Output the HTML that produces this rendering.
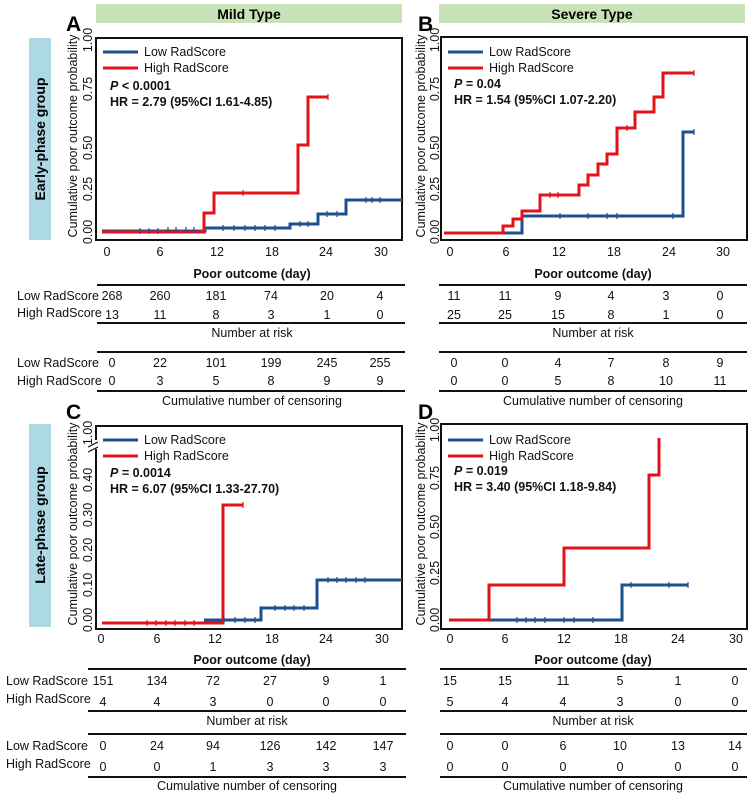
<!DOCTYPE html>
<html><head><meta charset="utf-8"><style>
body{margin:0;background:#fff}
svg text{font-family:"Liberation Sans",Arial,sans-serif}
.t{font-size:12.5px;fill:#111}
.b{font-weight:bold}
</style></head><body>
<svg width="756" height="795" viewBox="0 0 756 795" xmlns="http://www.w3.org/2000/svg">
<rect x="96" y="4" width="306" height="19" fill="#c9e3b8"/>
<text x="249" y="19" text-anchor="middle" font-size="14" font-weight="bold">Mild Type</text>
<rect x="439" y="4" width="306" height="19" fill="#c9e3b8"/>
<text x="592" y="19" text-anchor="middle" font-size="14" font-weight="bold">Severe Type</text>
<rect x="29" y="38" width="22" height="202" fill="#acd9e4"/>
<text transform="translate(45,139) rotate(-90)" text-anchor="middle" font-size="14" font-weight="bold">Early-phase group</text>
<rect x="29" y="424" width="22" height="203" fill="#acd9e4"/>
<text transform="translate(45,525) rotate(-90)" text-anchor="middle" font-size="14" font-weight="bold">Late-phase group</text>
<g font-size="21" font-weight="bold"><text x="66" y="31">A</text><text x="418" y="31">B</text><text x="66" y="419">C</text><text x="418" y="419">D</text></g>

<!-- A -->
<rect x="96" y="38" width="306" height="202" fill="none" stroke="#111" stroke-width="2"/>
<text class="t" transform="translate(77,136) rotate(-90)" text-anchor="middle" font-size="12">Cumulative poor outcome probability</text>
<g class="t" text-anchor="middle" font-size="12">
<text transform="translate(92,232) rotate(-90)">0.00</text><text transform="translate(92,189) rotate(-90)">0.25</text><text transform="translate(92,148) rotate(-90)">0.50</text><text transform="translate(92,89) rotate(-90)">0.75</text><text transform="translate(92,40) rotate(-90)">1.00</text>
<text x="107" y="256">0</text><text x="160" y="256">6</text><text x="217" y="256">12</text><text x="272" y="256">18</text><text x="326" y="256">24</text><text x="381" y="256">30</text>
</g>
<path d="M102 231H205V228H290V224H318V214H346V200H402" fill="none" stroke="#1f4f8e" stroke-width="3"/>
<path d="M102 232H204V213H214V193H298V145H308V97H328" fill="none" stroke="#e3131b" stroke-width="3"/>
<g stroke="#1f4f8e" stroke-width="1.2"><path d="M140 228v6M149 228v6M158 228v6M168 227v6M176 227v6M186 227v6M194 227v6M223 225v6M234 225v6M245 225v6M255 225v6M265 225v6M275 225v6M300 221v6M308 221v6M327 211v6M337 211v6M366 197v6M372 197v6M380 197v6"/></g>
<g stroke="#e3131b" stroke-width="1.2"><path d="M243 190v6M328 94v6"/></g>
<path d="M103 52h35" stroke="#1f4f8e" stroke-width="3"/><path d="M103 68h35" stroke="#e3131b" stroke-width="3"/>
<text class="t" x="144" y="56">Low RadScore</text><text class="t" x="144" y="72">High RadScore</text>
<text class="t b" x="110" y="90"><tspan font-style="italic">P</tspan> &lt; 0.0001</text>
<text class="t b" x="110" y="106">HR = 2.79 (95%CI 1.61-4.85)</text>

<!-- B -->
<rect x="441" y="37" width="306" height="203" fill="none" stroke="#111" stroke-width="2"/>
<text class="t" transform="translate(425,136) rotate(-90)" text-anchor="middle" font-size="12">Cumulative poor outcome probability</text>
<g class="t" text-anchor="middle" font-size="12">
<text transform="translate(439,232) rotate(-90)">0.00</text><text transform="translate(439,189) rotate(-90)">0.25</text><text transform="translate(439,148) rotate(-90)">0.50</text><text transform="translate(439,89) rotate(-90)">0.75</text><text transform="translate(439,40) rotate(-90)">1.00</text>
<text x="450" y="256">0</text><text x="506" y="256">6</text><text x="559" y="256">12</text><text x="614" y="256">18</text><text x="669" y="256">24</text><text x="723" y="256">30</text>
</g>
<path d="M444 233H522V216H683V132H694" fill="none" stroke="#1f4f8e" stroke-width="3"/>
<path d="M444 233H503V226H513V219H522V211H540V195H579V185H588V175H598V164H607V154H617V128H635V112H654V97H663V73H694" fill="none" stroke="#e3131b" stroke-width="3"/>
<g stroke="#1f4f8e" stroke-width="1.2"><path d="M560 213v6M588 213v6M607 213v6M617 213v6M673 213v6M694 129v6"/></g>
<g stroke="#e3131b" stroke-width="1.2"><path d="M550 192v6M558 192v6M627 125v6M694 70v6"/></g>
<path d="M448 52h35" stroke="#1f4f8e" stroke-width="3"/><path d="M448 68h35" stroke="#e3131b" stroke-width="3"/>
<text class="t" x="489" y="56">Low RadScore</text><text class="t" x="489" y="72">High RadScore</text>
<text class="t b" x="454" y="88"><tspan font-style="italic">P</tspan> = 0.04</text>
<text class="t b" x="454" y="104">HR = 1.54 (95%CI 1.07-2.20)</text>

<!-- C -->
<rect x="96" y="426" width="306" height="203" fill="none" stroke="#111" stroke-width="2"/>
<rect x="90" y="440" width="10" height="9" fill="#fff"/>
<path d="M88 447l10-5M88 452l10-5" stroke="#111" stroke-width="1.2"/>
<text class="t" transform="translate(77,524) rotate(-90)" text-anchor="middle" font-size="12">Cumulative poor outcome probability</text>
<g class="t" text-anchor="middle" font-size="12">
<text transform="translate(92,620) rotate(-90)">0.00</text><text transform="translate(92,585) rotate(-90)">0.10</text><text transform="translate(92,550) rotate(-90)">0.20</text><text transform="translate(92,515) rotate(-90)">0.30</text><text transform="translate(92,480) rotate(-90)">0.40</text><text transform="translate(92,433) rotate(-90)">1.00</text>
<text x="101" y="643">0</text><text x="157" y="643">6</text><text x="215" y="643">12</text><text x="272" y="643">18</text><text x="326" y="643">24</text><text x="382" y="643">30</text>
</g>
<path d="M204 620H261V608H317V580H402" fill="none" stroke="#1f4f8e" stroke-width="3"/>
<path d="M102 623H223V505H243" fill="none" stroke="#e3131b" stroke-width="3"/>
<g stroke="#1f4f8e" stroke-width="1.2"><path d="M224 617v6M235 617v6M245 617v6M255 617v6M275 605v6M285 605v6M294 605v6M304 605v6M328 577v6M337 577v6M346 577v6M356 577v6M365 577v6"/></g>
<g stroke="#e3131b" stroke-width="1.2"><path d="M147 620v6M156 620v6M166 620v6M175 620v6M185 620v6M194 620v6M243 502v6"/></g>
<path d="M103 440h35" stroke="#1f4f8e" stroke-width="3"/><path d="M103 456h35" stroke="#e3131b" stroke-width="3"/>
<text class="t" x="144" y="444">Low RadScore</text><text class="t" x="144" y="460">High RadScore</text>
<text class="t b" x="110" y="477"><tspan font-style="italic">P</tspan> = 0.0014</text>
<text class="t b" x="110" y="493">HR = 6.07 (95%CI 1.33-27.70)</text>

<!-- D -->
<rect x="441" y="424" width="306" height="205" fill="none" stroke="#111" stroke-width="2"/>
<text class="t" transform="translate(425,524) rotate(-90)" text-anchor="middle" font-size="12">Cumulative poor outcome probability</text>
<g class="t" text-anchor="middle" font-size="12">
<text transform="translate(439,620) rotate(-90)">0.00</text><text transform="translate(439,573) rotate(-90)">0.25</text><text transform="translate(439,527) rotate(-90)">0.50</text><text transform="translate(439,478) rotate(-90)">0.75</text><text transform="translate(439,430) rotate(-90)">1.00</text>
<text x="450" y="643">0</text><text x="505" y="643">6</text><text x="564" y="643">12</text><text x="621" y="643">18</text><text x="678" y="643">24</text><text x="736" y="643">30</text>
</g>
<path d="M489 620H622V585H688" fill="none" stroke="#1f4f8e" stroke-width="3"/>
<path d="M449 620H489V585H564V548H649V475H659V438" fill="none" stroke="#e3131b" stroke-width="3"/>
<g stroke="#1f4f8e" stroke-width="1.2"><path d="M517 617v6M526 617v6M535 617v6M545 617v6M564 617v6M574 617v6M593 617v6M631 582v6M669 582v6M688 582v6"/></g>
<path d="M448 440h35" stroke="#1f4f8e" stroke-width="3"/><path d="M448 456h35" stroke="#e3131b" stroke-width="3"/>
<text class="t" x="489" y="444">Low RadScore</text><text class="t" x="489" y="460">High RadScore</text>
<text class="t b" x="454" y="475"><tspan font-style="italic">P</tspan> = 0.019</text>
<text class="t b" x="454" y="491">HR = 3.40 (95%CI 1.18-9.84)</text>

<g class="t" font-size="12.5">
<text x="252" y="278" text-anchor="middle" class="b">Poor outcome (day)</text>
<path d="M97 285H405M97 323H405M97 352H405M97 391H405" stroke="#111" stroke-width="2"/>
<text x="17" y="300">Low RadScore</text><text x="17" y="317">High RadScore</text>
<text x="17" y="367">Low RadScore</text><text x="17" y="385">High RadScore</text>
<g text-anchor="middle">
<text x="112" y="300">268</text><text x="160" y="300">260</text><text x="216" y="300">181</text><text x="271" y="300">74</text><text x="327" y="300">20</text><text x="380" y="300">4</text>
<text x="112" y="319">13</text><text x="160" y="319">11</text><text x="216" y="319">8</text><text x="271" y="319">3</text><text x="327" y="319">1</text><text x="380" y="319">0</text>
<text x="252" y="337">Number at risk</text>
<text x="112" y="367">0</text><text x="160" y="367">22</text><text x="216" y="367">101</text><text x="271" y="367">199</text><text x="327" y="367">245</text><text x="380" y="367">255</text>
<text x="112" y="385">0</text><text x="160" y="385">3</text><text x="216" y="385">5</text><text x="271" y="385">8</text><text x="327" y="385">9</text><text x="380" y="385">9</text>
<text x="252" y="405">Cumulative number of censoring</text>
</g>
<text x="593" y="278" text-anchor="middle" class="b">Poor outcome (day)</text>
<path d="M439 285H747M439 323H747M439 352H747M439 391H747" stroke="#111" stroke-width="2"/>
<g text-anchor="middle">
<text x="454" y="300">11</text><text x="505" y="300">11</text><text x="558" y="300">9</text><text x="611" y="300">4</text><text x="666" y="300">3</text><text x="720" y="300">0</text>
<text x="454" y="319">25</text><text x="505" y="319">25</text><text x="558" y="319">15</text><text x="611" y="319">8</text><text x="666" y="319">1</text><text x="720" y="319">0</text>
<text x="593" y="337">Number at risk</text>
<text x="454" y="367">0</text><text x="505" y="367">0</text><text x="558" y="367">4</text><text x="611" y="367">7</text><text x="666" y="367">8</text><text x="720" y="367">9</text>
<text x="454" y="385">0</text><text x="505" y="385">0</text><text x="558" y="385">5</text><text x="611" y="385">8</text><text x="666" y="385">10</text><text x="720" y="385">11</text>
<text x="593" y="405">Cumulative number of censoring</text>
</g>
<text x="252" y="664" text-anchor="middle" class="b">Poor outcome (day)</text>
<path d="M88 669H406M88 711H406M88 734H406M88 777H406" stroke="#111" stroke-width="2"/>
<text x="6" y="685">Low RadScore</text><text x="6" y="703">High RadScore</text>
<text x="6" y="750">Low RadScore</text><text x="6" y="768">High RadScore</text>
<g text-anchor="middle">
<text x="103" y="685">151</text><text x="157" y="685">134</text><text x="213" y="685">72</text><text x="270" y="685">27</text><text x="326" y="685">9</text><text x="383" y="685">1</text>
<text x="103" y="706">4</text><text x="157" y="706">4</text><text x="213" y="706">3</text><text x="270" y="706">0</text><text x="326" y="706">0</text><text x="383" y="706">0</text>
<text x="247" y="725">Number at risk</text>
<text x="103" y="750">0</text><text x="157" y="750">24</text><text x="213" y="750">94</text><text x="270" y="750">126</text><text x="326" y="750">142</text><text x="383" y="750">147</text>
<text x="103" y="771">0</text><text x="157" y="771">0</text><text x="213" y="771">1</text><text x="270" y="771">3</text><text x="326" y="771">3</text><text x="383" y="771">3</text>
<text x="247" y="790">Cumulative number of censoring</text>
</g>
<text x="593" y="664" text-anchor="middle" class="b">Poor outcome (day)</text>
<path d="M440 669H747M440 711H747M440 734H747M440 777H747" stroke="#111" stroke-width="2"/>
<g text-anchor="middle">
<text x="450" y="685">15</text><text x="505" y="685">15</text><text x="563" y="685">11</text><text x="620" y="685">5</text><text x="678" y="685">1</text><text x="735" y="685">0</text>
<text x="450" y="706">5</text><text x="505" y="706">4</text><text x="563" y="706">4</text><text x="620" y="706">3</text><text x="678" y="706">0</text><text x="735" y="706">0</text>
<text x="593" y="725">Number at risk</text>
<text x="450" y="750">0</text><text x="505" y="750">0</text><text x="563" y="750">6</text><text x="620" y="750">10</text><text x="678" y="750">13</text><text x="735" y="750">14</text>
<text x="450" y="771">0</text><text x="505" y="771">0</text><text x="563" y="771">0</text><text x="620" y="771">0</text><text x="678" y="771">0</text><text x="735" y="771">0</text>
<text x="593" y="790">Cumulative number of censoring</text>
</g>
</g>
</svg>
</body></html>
